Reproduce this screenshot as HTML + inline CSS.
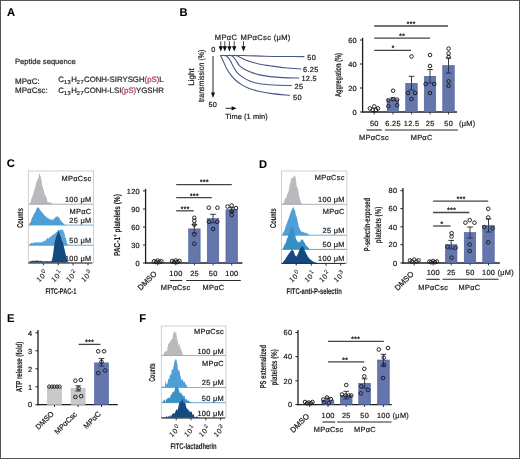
<!DOCTYPE html>
<html><head><meta charset="utf-8">
<style>
html,body{margin:0;padding:0;background:#fff;}
svg{display:block;will-change:transform;text-rendering:geometricPrecision;font-family:"Liberation Sans",sans-serif;}
.pl{font-weight:bold;font-size:11.2px;fill:#000;}
text{stroke:#222;stroke-width:0.22px;paint-order:stroke;}
.cd{stroke-width:0.1px;font-weight:bold;}
.tk{stroke-width:0.1px;}
.pl{stroke:#000;stroke-width:0.1px;}
</style></head><body>
<svg width="520" height="459" viewBox="0 0 520 459">
<rect x="0" y="0" width="520" height="459" fill="#fff"/>
<text class="pl" x="7" y="16.1">A</text>
<g fill="#2a2a2a" font-size="8" style="stroke-width:0.15px">
<text x="15" y="64.4" font-size="7.6">Peptide sequence</text>
<text x="15" y="83.6">MPαC:</text>
<text x="15" y="93.3">MPαCsc:</text>
<text x="58.3" y="82.2" font-size="7.8">C<tspan font-size="5.6" dy="1.8" letter-spacing="0.5">13</tspan><tspan dy="-1.8">H</tspan><tspan font-size="5.6" dy="1.8" letter-spacing="0.5">27</tspan><tspan dy="-1.8">CONH-SIRYSGH</tspan><tspan fill="#d03f66">(pS)</tspan>L</text>
<text x="58.3" y="93" font-size="7.8">C<tspan font-size="5.6" dy="1.8" letter-spacing="0.5">13</tspan><tspan dy="-1.8">H</tspan><tspan font-size="5.6" dy="1.8" letter-spacing="0.5">27</tspan><tspan dy="-1.8">CONH-LSI</tspan><tspan fill="#d03f66">(pS)</tspan>YGSHR</text>
</g>
<text class="pl" x="179.4" y="16.1">B</text>
<text x="214.8" y="39.8" font-size="7.6" text-anchor="start" fill="#222" letter-spacing="0.3" >MPαC</text>
<text x="240.6" y="39.8" font-size="7.6" text-anchor="start" fill="#222" letter-spacing="0.3" >MPαCsc (μM)</text>
<text x="211.3" y="52.3" font-size="7.3" text-anchor="start" fill="#222" letter-spacing="0.3" >0</text>
<text x="208.5" y="107" font-size="7.3" text-anchor="start" fill="#222" letter-spacing="0.3" >50</text>
<text x="225.3" y="119" font-size="7.4" text-anchor="start" fill="#222" letter-spacing="0.1" >Time (1 min)</text>
<text class="" transform="translate(193.8,77) rotate(-90) scale(1.0,1)" font-size="8.0" text-anchor="middle" fill="#222">Light</text>
<text class="" transform="translate(203.5,75.8) rotate(-90)" font-size="8.2" text-anchor="middle" fill="#222" textLength="52.5" lengthAdjust="spacingAndGlyphs">transmission (%)</text>
<text x="307.3" y="60" font-size="7.4" text-anchor="start" fill="#222" letter-spacing="0.3" >50</text>
<text x="303" y="72" font-size="7.4" text-anchor="start" fill="#222" letter-spacing="0.3" >6.25</text>
<text x="301.4" y="81" font-size="7.4" text-anchor="start" fill="#222" letter-spacing="0.3" >12.5</text>
<text x="294.6" y="89" font-size="7.4" text-anchor="start" fill="#222" letter-spacing="0.3" >25</text>
<text x="293" y="99.5" font-size="7.4" text-anchor="start" fill="#222" letter-spacing="0.3" >50</text>
<g stroke="#111" stroke-width="0.9" fill="#111">
<line x1="220.8" y1="41.2" x2="220.8" y2="47.5" stroke="#333"/><path d="M218.60000000000002 46.3 L223.0 46.3 L220.8 51.4 Z" stroke="none"/>
<line x1="224.8" y1="41.2" x2="224.8" y2="47.5" stroke="#333"/><path d="M222.60000000000002 46.3 L227.0 46.3 L224.8 51.4 Z" stroke="none"/>
<line x1="229.4" y1="41.2" x2="229.4" y2="47.5" stroke="#333"/><path d="M227.20000000000002 46.3 L231.6 46.3 L229.4 51.4 Z" stroke="none"/>
<line x1="234.2" y1="41.2" x2="234.2" y2="47.5" stroke="#333"/><path d="M232.0 46.3 L236.39999999999998 46.3 L234.2 51.4 Z" stroke="none"/>
<line x1="243.5" y1="41.2" x2="243.5" y2="47.5" stroke="#333"/><path d="M241.3 46.3 L245.7 46.3 L243.5 51.4 Z" stroke="none"/>
<line x1="213" y1="56" x2="213" y2="94"/><path d="M210.9 92.6 L215.1 92.6 L213 97.8 Z" stroke="none"/>
<line x1="225.5" y1="108.3" x2="233" y2="108.3"/><path d="M231.6 106.2 L231.6 110.4 L236.6 108.3 Z" stroke="none"/>
</g>
<g stroke="#4c5686" stroke-width="1.1" fill="none" stroke-linecap="round">
<path d="M220.80 55.50 C224.45 55.50 235.33 55.38 242.70 55.50 C250.07 55.62 257.95 56.03 265.00 56.20 C272.05 56.37 278.50 56.43 285.00 56.50 C291.50 56.57 300.83 56.58 304.00 56.60"/>
<path d="M234.20 55.30 C234.75 55.43 236.47 55.75 237.50 56.10 C238.53 56.45 239.08 56.75 240.40 57.40 C241.72 58.05 243.42 59.18 245.40 60.00 C247.38 60.82 249.87 61.60 252.30 62.30 C254.73 63.00 257.05 63.62 260.00 64.20 C262.95 64.78 265.83 65.20 270.00 65.80 C274.17 66.40 279.83 67.27 285.00 67.80 C290.17 68.33 298.33 68.80 301.00 69.00"/>
<path d="M229.30 55.30 C229.83 55.45 231.42 55.42 232.50 56.20 C233.58 56.98 234.68 58.47 235.80 60.00 C236.92 61.53 237.98 63.98 239.20 65.40 C240.42 66.82 241.43 67.48 243.10 68.50 C244.77 69.52 246.63 70.48 249.20 71.50 C251.77 72.52 255.03 73.75 258.50 74.60 C261.97 75.45 265.92 76.10 270.00 76.60 C274.08 77.10 278.20 77.37 283.00 77.60 C287.80 77.83 296.17 77.93 298.80 78.00"/>
<path d="M223.50 55.40 C224.05 55.55 225.72 55.53 226.80 56.30 C227.88 57.07 228.95 58.35 230.00 60.00 C231.05 61.65 231.95 64.15 233.10 66.20 C234.25 68.25 235.37 70.52 236.90 72.30 C238.43 74.08 240.25 75.48 242.30 76.90 C244.35 78.32 246.50 79.70 249.20 80.80 C251.90 81.90 254.53 82.80 258.50 83.50 C262.47 84.20 267.52 84.67 273.00 85.00 C278.48 85.33 288.33 85.42 291.40 85.50"/>
<path d="M220.60 55.60 C220.95 56.33 221.77 57.98 222.70 60.00 C223.63 62.02 224.98 65.40 226.20 67.70 C227.42 70.00 228.47 71.75 230.00 73.80 C231.53 75.85 233.48 78.20 235.40 80.00 C237.32 81.80 239.20 83.18 241.50 84.60 C243.80 86.02 246.37 87.40 249.20 88.50 C252.03 89.60 254.70 90.35 258.50 91.20 C262.30 92.05 266.87 92.90 272.00 93.60 C277.13 94.30 286.42 95.10 289.30 95.40"/>
</g>
<line x1="362.6" y1="37.8" x2="362.6" y2="112.6" stroke="#1e1e1e" stroke-width="1.3"/>
<line x1="360.0" y1="40" x2="362.6" y2="40" stroke="#222" stroke-width="1.0"/>
<text x="357.0" y="42.7" font-size="7.4" text-anchor="end" fill="#222" letter-spacing="0.3" >60</text>
<line x1="360.0" y1="64" x2="362.6" y2="64" stroke="#222" stroke-width="1.0"/>
<text x="357.0" y="66.7" font-size="7.4" text-anchor="end" fill="#222" letter-spacing="0.3" >40</text>
<line x1="360.0" y1="88" x2="362.6" y2="88" stroke="#222" stroke-width="1.0"/>
<text x="357.0" y="90.7" font-size="7.4" text-anchor="end" fill="#222" letter-spacing="0.3" >20</text>
<line x1="360.0" y1="112" x2="362.6" y2="112" stroke="#222" stroke-width="1.0"/>
<text x="357.0" y="114.7" font-size="7.4" text-anchor="end" fill="#222" letter-spacing="0.3" >0</text>
<line x1="362.0" y1="112" x2="457" y2="112" stroke="#1e1e1e" stroke-width="1.3"/>
<text class="cd" transform="translate(341.0,75) rotate(-90)" font-size="8.6" text-anchor="middle" fill="#222" textLength="44" lengthAdjust="spacingAndGlyphs">Aggregation (%)</text>
<line x1="374.2" y1="112" x2="374.2" y2="114.4" stroke="#222" stroke-width="0.9"/>
<line x1="392.9" y1="112" x2="392.9" y2="114.4" stroke="#222" stroke-width="0.9"/>
<line x1="411.5" y1="112" x2="411.5" y2="114.4" stroke="#222" stroke-width="0.9"/>
<line x1="430" y1="112" x2="430" y2="114.4" stroke="#222" stroke-width="0.9"/>
<line x1="448.5" y1="112" x2="448.5" y2="114.4" stroke="#222" stroke-width="0.9"/>
<rect x="387.15" y="99.6" width="11.5" height="12.400000000000006" fill="#6476ab" stroke="#4c5f9c" stroke-width="0.6"/>
<line x1="392.9" y1="97.8" x2="392.9" y2="99.6" stroke="#222" stroke-width="0.9"/>
<line x1="390.09999999999997" y1="97.8" x2="395.7" y2="97.8" stroke="#222" stroke-width="0.9"/>
<rect x="405.75" y="83.3" width="11.5" height="28.700000000000003" fill="#6476ab" stroke="#4c5f9c" stroke-width="0.6"/>
<line x1="411.5" y1="76.3" x2="411.5" y2="83.3" stroke="#222" stroke-width="0.9"/>
<line x1="408.7" y1="76.3" x2="414.3" y2="76.3" stroke="#222" stroke-width="0.9"/>
<line x1="411.5" y1="83.3" x2="411.5" y2="90" stroke="#1d2a55" stroke-width="0.9"/>
<line x1="408.7" y1="90" x2="414.3" y2="90" stroke="#1d2a55" stroke-width="0.9"/>
<rect x="424.25" y="76.3" width="11.5" height="35.7" fill="#6476ab" stroke="#4c5f9c" stroke-width="0.6"/>
<line x1="430" y1="69.5" x2="430" y2="76.3" stroke="#222" stroke-width="0.9"/>
<line x1="427.2" y1="69.5" x2="432.8" y2="69.5" stroke="#222" stroke-width="0.9"/>
<line x1="430" y1="76.3" x2="430" y2="83" stroke="#1d2a55" stroke-width="0.9"/>
<line x1="427.2" y1="83" x2="432.8" y2="83" stroke="#1d2a55" stroke-width="0.9"/>
<rect x="442.75" y="65.6" width="11.5" height="46.400000000000006" fill="#6476ab" stroke="#4c5f9c" stroke-width="0.6"/>
<line x1="448.5" y1="58" x2="448.5" y2="65.6" stroke="#222" stroke-width="0.9"/>
<line x1="445.7" y1="58" x2="451.3" y2="58" stroke="#222" stroke-width="0.9"/>
<line x1="448.5" y1="65.6" x2="448.5" y2="73" stroke="#1d2a55" stroke-width="0.9"/>
<line x1="445.7" y1="73" x2="451.3" y2="73" stroke="#1d2a55" stroke-width="0.9"/>
<circle cx="369.9" cy="108.4" r="1.8" fill="none" stroke="#1a1a1a" stroke-width="0.95"/>
<circle cx="374.3" cy="106.4" r="1.8" fill="none" stroke="#1a1a1a" stroke-width="0.95"/>
<circle cx="378" cy="108.4" r="1.8" fill="none" stroke="#1a1a1a" stroke-width="0.95"/>
<circle cx="372.6" cy="110" r="1.8" fill="none" stroke="#1a1a1a" stroke-width="0.95"/>
<circle cx="375.9" cy="110" r="1.8" fill="none" stroke="#1a1a1a" stroke-width="0.95"/>
<circle cx="393.1" cy="90.7" r="1.8" fill="none" stroke="#1a1a1a" stroke-width="0.95"/>
<circle cx="388.4" cy="100.3" r="1.8" fill="none" stroke="#1a1a1a" stroke-width="0.95"/>
<circle cx="393.1" cy="99.2" r="1.8" fill="none" stroke="#1a1a1a" stroke-width="0.95"/>
<circle cx="397.1" cy="99.7" r="1.8" fill="none" stroke="#1a1a1a" stroke-width="0.95"/>
<circle cx="388.4" cy="106.2" r="1.8" fill="none" stroke="#1a1a1a" stroke-width="0.95"/>
<circle cx="397.1" cy="105.2" r="1.8" fill="none" stroke="#1a1a1a" stroke-width="0.95"/>
<circle cx="411.5" cy="56.5" r="1.8" fill="none" stroke="#1a1a1a" stroke-width="0.95"/>
<circle cx="408" cy="93" r="1.8" fill="none" stroke="#1a1a1a" stroke-width="0.95"/>
<circle cx="415" cy="93" r="1.8" fill="none" stroke="#1a1a1a" stroke-width="0.95"/>
<circle cx="411.5" cy="99" r="1.8" fill="none" stroke="#1a1a1a" stroke-width="0.95"/>
<circle cx="430" cy="55" r="1.8" fill="none" stroke="#1a1a1a" stroke-width="0.95"/>
<circle cx="430" cy="66" r="1.8" fill="none" stroke="#1a1a1a" stroke-width="0.95"/>
<circle cx="425.7" cy="84" r="1.8" fill="none" stroke="#1a1a1a" stroke-width="0.95"/>
<circle cx="434.2" cy="84" r="1.8" fill="none" stroke="#1a1a1a" stroke-width="0.95"/>
<circle cx="430" cy="93" r="1.8" fill="none" stroke="#1a1a1a" stroke-width="0.95"/>
<circle cx="448.6" cy="48.6" r="1.8" fill="none" stroke="#1a1a1a" stroke-width="0.95"/>
<circle cx="448.6" cy="53.5" r="1.8" fill="none" stroke="#1a1a1a" stroke-width="0.95"/>
<circle cx="448.6" cy="57" r="1.8" fill="none" stroke="#1a1a1a" stroke-width="0.95"/>
<circle cx="448.6" cy="81.3" r="1.8" fill="none" stroke="#1a1a1a" stroke-width="0.95"/>
<circle cx="448.6" cy="85.9" r="1.8" fill="none" stroke="#1a1a1a" stroke-width="0.95"/>
<line x1="374.2" y1="26" x2="448" y2="26" stroke="#444" stroke-width="1.3"/>
<text x="411.35" y="25.8" font-size="6.4" text-anchor="middle" fill="#222" letter-spacing="0.5" font-weight="bold">***</text>
<line x1="374.2" y1="38.2" x2="430" y2="38.2" stroke="#444" stroke-width="1.3"/>
<text x="402.35" y="38.0" font-size="6.4" text-anchor="middle" fill="#222" letter-spacing="0.5" font-weight="bold">**</text>
<line x1="374.2" y1="50.3" x2="411" y2="50.3" stroke="#444" stroke-width="1.3"/>
<text x="393.25" y="50.099999999999994" font-size="6.4" text-anchor="middle" fill="#222" letter-spacing="0.5" font-weight="bold">*</text>
<text x="374.34999999999997" y="125.5" font-size="7.4" text-anchor="middle" fill="#222" letter-spacing="0.3" >50</text>
<text x="393.04999999999995" y="125.5" font-size="7.4" text-anchor="middle" fill="#222" letter-spacing="0.3" >6.25</text>
<text x="411.65" y="125.5" font-size="7.4" text-anchor="middle" fill="#222" letter-spacing="0.3" >12.5</text>
<text x="430.15" y="125.5" font-size="7.4" text-anchor="middle" fill="#222" letter-spacing="0.3" >25</text>
<text x="448.65" y="125.5" font-size="7.4" text-anchor="middle" fill="#222" letter-spacing="0.3" >50</text>
<text x="459" y="125.5" font-size="7.4" text-anchor="start" fill="#222" letter-spacing="0.3" >(μM)</text>
<line x1="366.6" y1="130" x2="381.9" y2="130" stroke="#2a2a2a" stroke-width="1.1"/>
<line x1="384.9" y1="130" x2="458" y2="130" stroke="#2a2a2a" stroke-width="1.1"/>
<text x="373.95" y="140.2" font-size="7.4" text-anchor="middle" fill="#222" letter-spacing="0.3" >MPαCsc</text>
<text x="421.65" y="140.2" font-size="7.4" text-anchor="middle" fill="#222" letter-spacing="0.3" >MPαC</text>
<text class="pl" x="6.8" y="167.3">C</text>
<path d="M29.50 204.20 L29.50 204.20 L30.40 203.06 L31.30 199.02 L32.20 196.71 L33.10 195.08 L34.00 191.21 L34.90 188.20 L35.80 184.45 L36.70 180.88 L37.60 179.82 L38.50 177.44 L39.40 172.90 L40.30 175.71 L41.20 178.35 L42.10 184.83 L43.00 187.70 L43.90 191.07 L44.80 195.21 L45.70 195.54 L46.60 197.55 L47.50 201.73 L48.40 202.78 L49.30 202.09 L50.20 202.19 L51.10 203.36 L52.00 203.84 L52.90 203.92 L53.80 204.15 L54.00 204.20 Z" fill="#b9babe" stroke="none"/>
<line x1="28.3" y1="204.2" x2="93.6" y2="204.2" stroke="#9a9a9a" stroke-width="0.8"/>
<path d="M29.00 225.10 L29.00 225.10 L29.50 223.86 L30.00 222.62 L30.50 222.56 L31.00 221.26 L31.50 218.94 L32.00 217.97 L32.50 216.95 L33.00 216.41 L33.50 214.93 L34.00 213.93 L34.50 212.97 L35.00 212.65 L35.50 211.34 L36.00 210.52 L36.50 209.12 L37.00 207.81 L37.50 207.49 L38.00 207.74 L38.50 207.50 L39.00 207.66 L39.50 208.97 L40.00 209.92 L40.50 210.16 L41.00 211.22 L41.50 211.96 L42.00 211.97 L42.50 212.93 L43.00 213.25 L43.50 214.15 L44.00 214.86 L44.50 215.13 L45.00 216.18 L45.50 216.33 L46.00 216.30 L46.50 217.20 L47.00 218.36 L47.50 217.60 L48.00 218.13 L48.50 218.47 L49.00 218.45 L49.50 218.93 L50.00 219.14 L50.50 219.96 L51.00 219.08 L51.50 219.24 L52.00 220.64 L52.50 219.44 L53.00 219.26 L53.50 219.41 L54.00 219.05 L54.50 218.62 L55.00 217.42 L55.50 217.60 L56.00 216.57 L56.50 217.19 L57.00 216.19 L57.50 216.02 L58.00 217.01 L58.50 217.41 L59.00 217.43 L59.50 218.37 L60.00 219.37 L60.50 220.42 L61.00 220.88 L61.50 220.91 L62.00 222.38 L62.50 221.90 L63.00 223.35 L63.50 223.27 L64.00 224.20 L64.50 224.48 L65.00 224.73 L65.50 224.93 L66.00 225.10 L66.00 225.10 Z" fill="#4e9fd8" stroke="none"/>
<line x1="28.3" y1="225.1" x2="93.6" y2="225.1" stroke="#4e9fd8" stroke-width="0.8"/>
<path d="M29.00 245.20 L29.00 245.20 L29.50 244.55 L30.00 243.66 L30.50 243.57 L31.00 243.09 L31.50 242.80 L32.00 243.28 L32.50 243.34 L33.00 242.21 L33.50 242.97 L34.00 242.99 L34.50 241.92 L35.00 242.63 L35.50 242.10 L36.00 242.58 L36.50 242.33 L37.00 243.01 L37.50 242.30 L38.00 241.94 L38.50 242.42 L39.00 242.08 L39.50 242.16 L40.00 243.05 L40.50 241.88 L41.00 242.01 L41.50 242.36 L42.00 242.67 L42.50 241.22 L43.00 241.72 L43.50 241.21 L44.00 240.83 L44.50 240.98 L45.00 240.53 L45.50 240.77 L46.00 239.52 L46.50 239.49 L47.00 238.10 L47.50 237.93 L48.00 238.91 L48.50 238.58 L49.00 238.19 L49.50 236.72 L50.00 237.30 L50.50 236.54 L51.00 236.60 L51.50 235.80 L52.00 235.54 L52.50 235.13 L53.00 234.56 L53.50 234.44 L54.00 233.80 L54.50 234.03 L55.00 233.51 L55.50 233.00 L56.00 232.16 L56.50 232.05 L57.00 232.24 L57.50 230.75 L58.00 230.21 L58.50 229.93 L59.00 230.09 L59.50 229.72 L60.00 230.40 L60.50 229.27 L61.00 229.55 L61.50 229.88 L62.00 230.10 L62.50 229.41 L63.00 229.77 L63.50 231.78 L64.00 231.22 L64.50 233.72 L65.00 236.01 L65.50 237.65 L66.00 238.77 L66.50 240.39 L67.00 243.36 L67.50 244.21 L68.00 244.73 L68.50 244.85 L69.00 245.20 L69.00 245.20 Z" fill="#5aa5da" stroke="none"/>
<line x1="28.3" y1="245.2" x2="93.6" y2="245.2" stroke="#3f95c9" stroke-width="0.8"/>
<text x="91.5" y="260.8" font-size="7.4" text-anchor="end" fill="#222" letter-spacing="0.3" >100 μM</text>
<path d="M28.50 262.80 L28.50 262.80 L29.00 262.12 L29.50 261.50 L30.00 261.28 L30.50 261.35 L31.00 261.33 L31.50 261.07 L32.00 260.68 L32.50 260.68 L33.00 260.62 L33.50 260.94 L34.00 260.67 L34.50 260.81 L35.00 260.84 L35.50 260.85 L36.00 260.72 L36.50 260.24 L37.00 260.39 L37.50 260.47 L38.00 260.54 L38.50 261.02 L39.00 261.00 L39.50 260.86 L40.00 260.86 L40.50 260.82 L41.00 260.84 L41.50 261.33 L42.00 261.06 L42.50 261.06 L43.00 261.18 L43.50 261.38 L44.00 261.25 L44.50 261.48 L45.00 261.08 L45.50 261.12 L46.00 261.28 L46.50 261.40 L47.00 261.10 L47.50 261.26 L48.00 261.11 L48.50 261.13 L49.00 261.30 L49.50 261.34 L50.00 261.25 L50.50 261.21 L51.00 261.24 L51.50 261.03 L52.00 259.90 L52.50 257.51 L53.00 254.38 L53.50 250.67 L54.00 247.11 L54.50 242.95 L55.00 240.88 L55.50 239.33 L56.00 236.99 L56.50 236.10 L57.00 234.58 L57.50 233.48 L58.00 231.74 L58.50 230.79 L59.00 231.73 L59.50 232.95 L60.00 234.98 L60.50 236.11 L61.00 237.14 L61.50 239.31 L62.00 240.72 L62.50 241.92 L63.00 243.03 L63.50 245.02 L64.00 247.23 L64.50 248.97 L65.00 251.39 L65.50 253.37 L66.00 256.06 L66.50 257.44 L67.00 259.28 L67.50 261.18 L68.00 261.79 L68.50 262.26 L69.00 262.80 L69.00 262.80 Z" fill="#154a80" stroke="none"/>
<rect x="28.3" y="171" width="65.3" height="92" fill="none" stroke="#c4c4c4" stroke-width="0.8"/>
<line x1="28.3" y1="263" x2="92.3" y2="263" stroke="#222" stroke-width="1.0"/>
<line x1="43.4" y1="263" x2="43.4" y2="265.3" stroke="#222" stroke-width="0.9"/>
<text class="tk" transform="translate(48.3,273.4) rotate(-45)" font-size="7.2" text-anchor="end" fill="#262626" letter-spacing="0.4">10<tspan font-size="5.8" dy="-3" dx="0.3">0</tspan></text>
<line x1="58.2" y1="263" x2="58.2" y2="265.3" stroke="#222" stroke-width="0.9"/>
<text class="tk" transform="translate(63.1,273.4) rotate(-45)" font-size="7.2" text-anchor="end" fill="#262626" letter-spacing="0.4">10<tspan font-size="5.8" dy="-3" dx="0.3">1</tspan></text>
<line x1="73" y1="263" x2="73" y2="265.3" stroke="#222" stroke-width="0.9"/>
<text class="tk" transform="translate(77.9,273.4) rotate(-45)" font-size="7.2" text-anchor="end" fill="#262626" letter-spacing="0.4">10<tspan font-size="5.8" dy="-3" dx="0.3">2</tspan></text>
<line x1="88" y1="263" x2="88" y2="265.3" stroke="#222" stroke-width="0.9"/>
<text class="tk" transform="translate(92.9,273.4) rotate(-45)" font-size="7.2" text-anchor="end" fill="#262626" letter-spacing="0.4">10<tspan font-size="5.8" dy="-3" dx="0.3">3</tspan></text>
<text x="91.5" y="180.8" font-size="7.4" text-anchor="end" fill="#222" letter-spacing="0.3" >MPαCsc</text>
<text x="91.5" y="202.2" font-size="7.4" text-anchor="end" fill="#222" letter-spacing="0.3" >100 μM</text>
<text x="91.5" y="214.3" font-size="7.4" text-anchor="end" fill="#222" letter-spacing="0.3" >MPαC</text>
<text x="91.5" y="223.3" font-size="7.4" text-anchor="end" fill="#222" letter-spacing="0.3" >25 μM</text>
<text x="91.5" y="242.5" font-size="7.4" text-anchor="end" fill="#222" letter-spacing="0.3" >50 μM</text>
<text class="cd" transform="translate(23.2,218) rotate(-90)" font-size="8.6" text-anchor="middle" fill="#222" textLength="19.6" lengthAdjust="spacingAndGlyphs">Counts</text>
<text class="cd" x="60.9" y="293.5" font-size="8.4" text-anchor="middle" fill="#222" textLength="31" lengthAdjust="spacingAndGlyphs">FITC-PAC-1</text>
<line x1="145.6" y1="188.9" x2="145.6" y2="263.6" stroke="#1e1e1e" stroke-width="1.3"/>
<line x1="143.0" y1="190.9" x2="145.6" y2="190.9" stroke="#222" stroke-width="1.0"/>
<text x="140.0" y="193.6" font-size="7.4" text-anchor="end" fill="#222" letter-spacing="0.3" >120</text>
<line x1="143.0" y1="209" x2="145.6" y2="209" stroke="#222" stroke-width="1.0"/>
<text x="140.0" y="211.7" font-size="7.4" text-anchor="end" fill="#222" letter-spacing="0.3" >90</text>
<line x1="143.0" y1="227" x2="145.6" y2="227" stroke="#222" stroke-width="1.0"/>
<text x="140.0" y="229.7" font-size="7.4" text-anchor="end" fill="#222" letter-spacing="0.3" >60</text>
<line x1="143.0" y1="245" x2="145.6" y2="245" stroke="#222" stroke-width="1.0"/>
<text x="140.0" y="247.7" font-size="7.4" text-anchor="end" fill="#222" letter-spacing="0.3" >30</text>
<line x1="143.0" y1="263" x2="145.6" y2="263" stroke="#222" stroke-width="1.0"/>
<text x="140.0" y="265.7" font-size="7.4" text-anchor="end" fill="#222" letter-spacing="0.3" >0</text>
<line x1="145.0" y1="263" x2="242.4" y2="263" stroke="#1e1e1e" stroke-width="1.3"/>
<line x1="157.7" y1="263" x2="157.7" y2="265.4" stroke="#222" stroke-width="0.9"/>
<line x1="175.8" y1="263" x2="175.8" y2="265.4" stroke="#222" stroke-width="0.9"/>
<line x1="194.4" y1="263" x2="194.4" y2="265.4" stroke="#222" stroke-width="0.9"/>
<line x1="213" y1="263" x2="213" y2="265.4" stroke="#222" stroke-width="0.9"/>
<line x1="231.7" y1="263" x2="231.7" y2="265.4" stroke="#222" stroke-width="0.9"/>
<rect x="188.65" y="228.9" width="11.5" height="34.099999999999994" fill="#6476ab" stroke="#4c5f9c" stroke-width="0.6"/>
<line x1="194.4" y1="224.6" x2="194.4" y2="228.9" stroke="#222" stroke-width="0.9"/>
<line x1="191.6" y1="224.6" x2="197.20000000000002" y2="224.6" stroke="#222" stroke-width="0.9"/>
<line x1="194.4" y1="228.9" x2="194.4" y2="233" stroke="#1d2a55" stroke-width="0.9"/>
<line x1="191.6" y1="233" x2="197.20000000000002" y2="233" stroke="#1d2a55" stroke-width="0.9"/>
<rect x="207.25" y="218.5" width="11.5" height="44.5" fill="#6476ab" stroke="#4c5f9c" stroke-width="0.6"/>
<line x1="213" y1="214.3" x2="213" y2="218.5" stroke="#222" stroke-width="0.9"/>
<line x1="210.2" y1="214.3" x2="215.8" y2="214.3" stroke="#222" stroke-width="0.9"/>
<line x1="213" y1="218.5" x2="213" y2="222.7" stroke="#1d2a55" stroke-width="0.9"/>
<line x1="210.2" y1="222.7" x2="215.8" y2="222.7" stroke="#1d2a55" stroke-width="0.9"/>
<rect x="225.95" y="209.7" width="11.5" height="53.30000000000001" fill="#6476ab" stroke="#4c5f9c" stroke-width="0.6"/>
<line x1="231.7" y1="207.7" x2="231.7" y2="209.7" stroke="#222" stroke-width="0.9"/>
<line x1="228.89999999999998" y1="207.7" x2="234.5" y2="207.7" stroke="#222" stroke-width="0.9"/>
<line x1="231.7" y1="209.7" x2="231.7" y2="212" stroke="#1d2a55" stroke-width="0.9"/>
<line x1="228.89999999999998" y1="212" x2="234.5" y2="212" stroke="#1d2a55" stroke-width="0.9"/>
<circle cx="154" cy="261.3" r="1.8" fill="none" stroke="#1a1a1a" stroke-width="0.95"/>
<circle cx="157.7" cy="260.5" r="1.8" fill="none" stroke="#1a1a1a" stroke-width="0.95"/>
<circle cx="161.3" cy="261.3" r="1.8" fill="none" stroke="#1a1a1a" stroke-width="0.95"/>
<circle cx="156" cy="262" r="1.8" fill="none" stroke="#1a1a1a" stroke-width="0.95"/>
<circle cx="159.5" cy="262" r="1.8" fill="none" stroke="#1a1a1a" stroke-width="0.95"/>
<circle cx="172" cy="261" r="1.8" fill="none" stroke="#1a1a1a" stroke-width="0.95"/>
<circle cx="175.8" cy="260.5" r="1.8" fill="none" stroke="#1a1a1a" stroke-width="0.95"/>
<circle cx="179.5" cy="261" r="1.8" fill="none" stroke="#1a1a1a" stroke-width="0.95"/>
<circle cx="174" cy="262" r="1.8" fill="none" stroke="#1a1a1a" stroke-width="0.95"/>
<circle cx="177.5" cy="262" r="1.8" fill="none" stroke="#1a1a1a" stroke-width="0.95"/>
<circle cx="194.3" cy="217.8" r="1.8" fill="none" stroke="#1a1a1a" stroke-width="0.95"/>
<circle cx="194.3" cy="220.8" r="1.8" fill="none" stroke="#1a1a1a" stroke-width="0.95"/>
<circle cx="194.3" cy="224.7" r="1.8" fill="none" stroke="#1a1a1a" stroke-width="0.95"/>
<circle cx="194.3" cy="234.5" r="1.8" fill="none" stroke="#1a1a1a" stroke-width="0.95"/>
<circle cx="194.3" cy="243.7" r="1.8" fill="none" stroke="#1a1a1a" stroke-width="0.95"/>
<circle cx="208.8" cy="207.7" r="1.8" fill="none" stroke="#1a1a1a" stroke-width="0.95"/>
<circle cx="217.4" cy="207.7" r="1.8" fill="none" stroke="#1a1a1a" stroke-width="0.95"/>
<circle cx="209" cy="221.8" r="1.8" fill="none" stroke="#1a1a1a" stroke-width="0.95"/>
<circle cx="217.3" cy="221.8" r="1.8" fill="none" stroke="#1a1a1a" stroke-width="0.95"/>
<circle cx="213.2" cy="229" r="1.8" fill="none" stroke="#1a1a1a" stroke-width="0.95"/>
<circle cx="227.5" cy="206.5" r="1.8" fill="none" stroke="#1a1a1a" stroke-width="0.95"/>
<circle cx="231.7" cy="205.5" r="1.8" fill="none" stroke="#1a1a1a" stroke-width="0.95"/>
<circle cx="236" cy="208" r="1.8" fill="none" stroke="#1a1a1a" stroke-width="0.95"/>
<circle cx="231.7" cy="211" r="1.8" fill="none" stroke="#1a1a1a" stroke-width="0.95"/>
<circle cx="231.7" cy="215" r="1.8" fill="none" stroke="#1a1a1a" stroke-width="0.95"/>
<line x1="176.2" y1="184.6" x2="231.8" y2="184.6" stroke="#444" stroke-width="1.3"/>
<text x="204.45" y="184.4" font-size="6.4" text-anchor="middle" fill="#222" letter-spacing="0.5" font-weight="bold">***</text>
<line x1="176.2" y1="197.7" x2="211.8" y2="197.7" stroke="#444" stroke-width="1.3"/>
<text x="194.55" y="197.5" font-size="6.4" text-anchor="middle" fill="#222" letter-spacing="0.5" font-weight="bold">***</text>
<line x1="176.2" y1="210.8" x2="193.8" y2="210.8" stroke="#444" stroke-width="1.3"/>
<text x="185.25" y="210.60000000000002" font-size="6.4" text-anchor="middle" fill="#222" letter-spacing="0.5" font-weight="bold">***</text>
<text x="157.7" y="0" font-size="7" text-anchor="start" fill="#222" letter-spacing="0.3" ></text>
<text transform="translate(157.3,274.2) rotate(-45)" font-size="7.8" text-anchor="end" fill="#222">DMSO</text>
<text x="175.95000000000002" y="275.8" font-size="7.4" text-anchor="middle" fill="#222" letter-spacing="0.3" >100</text>
<text x="194.55" y="275.8" font-size="7.4" text-anchor="middle" fill="#222" letter-spacing="0.3" >25</text>
<text x="213.15" y="275.8" font-size="7.4" text-anchor="middle" fill="#222" letter-spacing="0.3" >50</text>
<text x="231.85" y="275.8" font-size="7.4" text-anchor="middle" fill="#222" letter-spacing="0.3" >100</text>
<line x1="170" y1="280.5" x2="182.3" y2="280.5" stroke="#2a2a2a" stroke-width="1.1"/>
<line x1="186.2" y1="280.5" x2="240.8" y2="280.5" stroke="#2a2a2a" stroke-width="1.1"/>
<text x="175.65" y="290.2" font-size="7.4" text-anchor="middle" fill="#222" letter-spacing="0.3" >MPαCsc</text>
<text x="213.45000000000002" y="290.2" font-size="7.4" text-anchor="middle" fill="#222" letter-spacing="0.3" >MPαC</text>
<text class="cd" transform="translate(119.8,225.1) rotate(-90)" font-size="8.6" text-anchor="middle" fill="#222" textLength="61.8" lengthAdjust="spacingAndGlyphs">PAC-1<tspan font-size="5.8" dy="-2.7">+</tspan><tspan dy="2.7"> platelets (%)</tspan></text>
<text class="pl" x="259" y="167.6">D</text>
<path d="M282.40 204.30 L282.40 204.30 L283.30 203.26 L284.20 201.66 L285.10 197.98 L286.00 198.47 L286.90 195.56 L287.80 192.46 L288.70 191.08 L289.60 185.84 L290.50 181.90 L291.40 177.94 L292.30 178.39 L293.20 176.64 L294.10 176.55 L295.00 174.92 L295.90 179.47 L296.80 187.52 L297.70 187.62 L298.60 192.38 L299.50 197.53 L300.40 200.58 L301.30 203.78 L302.20 204.20 L303.00 204.30 Z" fill="#b9babe" stroke="none"/>
<line x1="281.5" y1="204.3" x2="346.9" y2="204.3" stroke="#9a9a9a" stroke-width="0.8"/>
<path d="M282.00 235.20 L282.00 235.20 L282.50 234.21 L283.00 233.03 L283.50 231.68 L284.00 231.27 L284.50 230.23 L285.00 228.40 L285.50 227.31 L286.00 225.20 L286.50 224.15 L287.00 223.04 L287.50 221.61 L288.00 219.94 L288.50 219.27 L289.00 217.30 L289.50 216.24 L290.00 213.55 L290.50 213.41 L291.00 210.69 L291.50 210.88 L292.00 208.90 L292.50 208.46 L293.00 207.80 L293.50 206.55 L294.00 208.92 L294.50 209.90 L295.00 210.54 L295.50 213.19 L296.00 215.85 L296.50 216.19 L297.00 218.01 L297.50 221.11 L298.00 222.71 L298.50 225.48 L299.00 227.50 L299.50 228.01 L300.00 229.74 L300.50 229.89 L301.00 231.42 L301.50 231.73 L302.00 231.19 L302.50 232.03 L303.00 232.16 L303.50 232.05 L304.00 232.40 L304.50 232.70 L305.00 233.33 L305.50 232.64 L306.00 232.62 L306.50 232.88 L307.00 233.42 L307.50 233.89 L308.00 234.09 L308.50 234.21 L309.00 234.54 L309.50 234.96 L310.00 235.20 L310.00 235.20 Z" fill="#4e9fd8" stroke="none"/>
<line x1="281.5" y1="235.2" x2="346.9" y2="235.2" stroke="#4e9fd8" stroke-width="0.8"/>
<path d="M282.50 249.40 L282.50 249.40 L283.00 248.53 L283.50 247.20 L284.00 246.11 L284.50 244.59 L285.00 244.40 L285.50 243.08 L286.00 241.96 L286.50 240.59 L287.00 238.53 L287.50 238.24 L288.00 236.35 L288.50 235.36 L289.00 233.73 L289.50 232.01 L290.00 229.86 L290.50 229.18 L291.00 229.08 L291.50 227.61 L292.00 226.77 L292.50 226.67 L293.00 227.84 L293.50 228.91 L294.00 230.88 L294.50 233.01 L295.00 234.68 L295.50 236.60 L296.00 239.12 L296.50 239.84 L297.00 240.97 L297.50 241.10 L298.00 241.96 L298.50 242.54 L299.00 242.30 L299.50 241.86 L300.00 241.70 L300.50 241.59 L301.00 240.04 L301.50 239.65 L302.00 238.92 L302.50 239.79 L303.00 240.41 L303.50 240.50 L304.00 242.32 L304.50 242.28 L305.00 243.49 L305.50 244.67 L306.00 245.38 L306.50 245.61 L307.00 246.79 L307.50 246.95 L308.00 247.29 L308.50 247.98 L309.00 248.60 L309.50 248.90 L310.00 249.40 L310.00 249.40 Z" fill="#3590c4" stroke="none"/>
<line x1="281.5" y1="249.4" x2="346.9" y2="249.4" stroke="#3590c4" stroke-width="0.8"/>
<text x="344.7" y="260.6" font-size="7.4" text-anchor="end" fill="#222" letter-spacing="0.3" >100 μM</text>
<path d="M282.50 263.00 L282.50 263.00 L283.00 262.40 L283.50 261.59 L284.00 260.92 L284.50 259.93 L285.00 259.68 L285.50 258.95 L286.00 257.81 L286.50 257.12 L287.00 256.66 L287.50 255.60 L288.00 255.08 L288.50 254.03 L289.00 253.81 L289.50 252.97 L290.00 251.68 L290.50 251.51 L291.00 250.99 L291.50 249.96 L292.00 249.49 L292.50 250.35 L293.00 250.49 L293.50 250.87 L294.00 252.60 L294.50 253.55 L295.00 255.30 L295.50 255.67 L296.00 256.41 L296.50 256.40 L297.00 255.20 L297.50 255.08 L298.00 253.27 L298.50 252.38 L299.00 250.91 L299.50 249.70 L300.00 248.85 L300.50 248.31 L301.00 247.26 L301.50 246.56 L302.00 246.26 L302.50 246.82 L303.00 246.70 L303.50 247.49 L304.00 248.91 L304.50 249.87 L305.00 251.23 L305.50 251.76 L306.00 253.00 L306.50 254.32 L307.00 254.75 L307.50 256.08 L308.00 256.68 L308.50 257.63 L309.00 257.81 L309.50 258.81 L310.00 258.98 L310.50 259.83 L311.00 260.02 L311.50 260.25 L312.00 260.73 L312.50 261.15 L313.00 261.51 L313.50 261.72 L314.00 261.87 L314.50 262.20 L315.00 262.30 L315.50 262.51 L316.00 262.62 L316.50 262.82 L317.00 263.00 L317.00 263.00 Z" fill="#154a80" stroke="none"/>
<rect x="281.5" y="171" width="65.39999999999998" height="92.39999999999998" fill="none" stroke="#c4c4c4" stroke-width="0.8"/>
<line x1="281.5" y1="263.4" x2="345.5" y2="263.4" stroke="#222" stroke-width="1.0"/>
<line x1="296.2" y1="263.4" x2="296.2" y2="265.7" stroke="#222" stroke-width="0.9"/>
<text class="tk" transform="translate(301.09999999999997,273.79999999999995) rotate(-45)" font-size="7.2" text-anchor="end" fill="#262626" letter-spacing="0.4">10<tspan font-size="5.8" dy="-3" dx="0.3">0</tspan></text>
<line x1="311.3" y1="263.4" x2="311.3" y2="265.7" stroke="#222" stroke-width="0.9"/>
<text class="tk" transform="translate(316.2,273.79999999999995) rotate(-45)" font-size="7.2" text-anchor="end" fill="#262626" letter-spacing="0.4">10<tspan font-size="5.8" dy="-3" dx="0.3">1</tspan></text>
<line x1="326" y1="263.4" x2="326" y2="265.7" stroke="#222" stroke-width="0.9"/>
<text class="tk" transform="translate(330.9,273.79999999999995) rotate(-45)" font-size="7.2" text-anchor="end" fill="#262626" letter-spacing="0.4">10<tspan font-size="5.8" dy="-3" dx="0.3">2</tspan></text>
<line x1="340.7" y1="263.4" x2="340.7" y2="265.7" stroke="#222" stroke-width="0.9"/>
<text class="tk" transform="translate(345.59999999999997,273.79999999999995) rotate(-45)" font-size="7.2" text-anchor="end" fill="#262626" letter-spacing="0.4">10<tspan font-size="5.8" dy="-3" dx="0.3">3</tspan></text>
<text x="344.7" y="180.4" font-size="7.4" text-anchor="end" fill="#222" letter-spacing="0.3" >MPαCsc</text>
<text x="344.7" y="202" font-size="7.4" text-anchor="end" fill="#222" letter-spacing="0.3" >100 μM</text>
<text x="344.7" y="214" font-size="7.4" text-anchor="end" fill="#222" letter-spacing="0.3" >MPαC</text>
<text x="344.7" y="232.8" font-size="7.4" text-anchor="end" fill="#222" letter-spacing="0.3" >25 μM</text>
<text x="344.7" y="246.6" font-size="7.4" text-anchor="end" fill="#222" letter-spacing="0.3" >50 μM</text>
<text class="cd" transform="translate(276.1,218.1) rotate(-90)" font-size="8.6" text-anchor="middle" fill="#222" textLength="19.6" lengthAdjust="spacingAndGlyphs">Counts</text>
<text class="cd" x="314.2" y="293.6" font-size="8.4" text-anchor="middle" fill="#222" textLength="55.2" lengthAdjust="spacingAndGlyphs">FITC-anti-P-selectin</text>
<line x1="403" y1="188" x2="403" y2="263.6" stroke="#1e1e1e" stroke-width="1.3"/>
<line x1="400.4" y1="190.7" x2="403" y2="190.7" stroke="#222" stroke-width="1.0"/>
<text x="397.4" y="193.39999999999998" font-size="7.4" text-anchor="end" fill="#222" letter-spacing="0.3" >80</text>
<line x1="400.4" y1="208.6" x2="403" y2="208.6" stroke="#222" stroke-width="1.0"/>
<text x="397.4" y="211.29999999999998" font-size="7.4" text-anchor="end" fill="#222" letter-spacing="0.3" >60</text>
<line x1="400.4" y1="226.8" x2="403" y2="226.8" stroke="#222" stroke-width="1.0"/>
<text x="397.4" y="229.5" font-size="7.4" text-anchor="end" fill="#222" letter-spacing="0.3" >40</text>
<line x1="400.4" y1="244.7" x2="403" y2="244.7" stroke="#222" stroke-width="1.0"/>
<text x="397.4" y="247.39999999999998" font-size="7.4" text-anchor="end" fill="#222" letter-spacing="0.3" >20</text>
<line x1="400.4" y1="263" x2="403" y2="263" stroke="#222" stroke-width="1.0"/>
<text x="397.4" y="265.7" font-size="7.4" text-anchor="end" fill="#222" letter-spacing="0.3" >0</text>
<line x1="402.4" y1="263" x2="499.8" y2="263" stroke="#1e1e1e" stroke-width="1.3"/>
<line x1="414.2" y1="263" x2="414.2" y2="265.4" stroke="#222" stroke-width="0.9"/>
<line x1="433.1" y1="263" x2="433.1" y2="265.4" stroke="#222" stroke-width="0.9"/>
<line x1="451.2" y1="263" x2="451.2" y2="265.4" stroke="#222" stroke-width="0.9"/>
<line x1="470" y1="263" x2="470" y2="265.4" stroke="#222" stroke-width="0.9"/>
<line x1="488.5" y1="263" x2="488.5" y2="265.4" stroke="#222" stroke-width="0.9"/>
<rect x="445.45" y="244.7" width="11.5" height="18.30000000000001" fill="#6476ab" stroke="#4c5f9c" stroke-width="0.6"/>
<line x1="451.2" y1="240.4" x2="451.2" y2="244.7" stroke="#222" stroke-width="0.9"/>
<line x1="448.4" y1="240.4" x2="454.0" y2="240.4" stroke="#222" stroke-width="0.9"/>
<line x1="451.2" y1="244.7" x2="451.2" y2="249" stroke="#1d2a55" stroke-width="0.9"/>
<line x1="448.4" y1="249" x2="454.0" y2="249" stroke="#1d2a55" stroke-width="0.9"/>
<rect x="464.25" y="232.5" width="11.5" height="30.5" fill="#6476ab" stroke="#4c5f9c" stroke-width="0.6"/>
<line x1="470" y1="227" x2="470" y2="232.5" stroke="#222" stroke-width="0.9"/>
<line x1="467.2" y1="227" x2="472.8" y2="227" stroke="#222" stroke-width="0.9"/>
<line x1="470" y1="232.5" x2="470" y2="238" stroke="#1d2a55" stroke-width="0.9"/>
<line x1="467.2" y1="238" x2="472.8" y2="238" stroke="#1d2a55" stroke-width="0.9"/>
<rect x="482.75" y="225.6" width="11.5" height="37.400000000000006" fill="#6476ab" stroke="#4c5f9c" stroke-width="0.6"/>
<line x1="488.5" y1="219" x2="488.5" y2="225.6" stroke="#222" stroke-width="0.9"/>
<line x1="485.7" y1="219" x2="491.3" y2="219" stroke="#222" stroke-width="0.9"/>
<line x1="488.5" y1="225.6" x2="488.5" y2="232" stroke="#1d2a55" stroke-width="0.9"/>
<line x1="485.7" y1="232" x2="491.3" y2="232" stroke="#1d2a55" stroke-width="0.9"/>
<circle cx="410" cy="260.4" r="1.8" fill="none" stroke="#1a1a1a" stroke-width="0.95"/>
<circle cx="414.2" cy="259.6" r="1.8" fill="none" stroke="#1a1a1a" stroke-width="0.95"/>
<circle cx="418.5" cy="260.4" r="1.8" fill="none" stroke="#1a1a1a" stroke-width="0.95"/>
<circle cx="412" cy="261.5" r="1.8" fill="none" stroke="#1a1a1a" stroke-width="0.95"/>
<circle cx="416.5" cy="261.5" r="1.8" fill="none" stroke="#1a1a1a" stroke-width="0.95"/>
<circle cx="429.5" cy="261.5" r="1.8" fill="none" stroke="#1a1a1a" stroke-width="0.95"/>
<circle cx="433.1" cy="261" r="1.8" fill="none" stroke="#1a1a1a" stroke-width="0.95"/>
<circle cx="436.8" cy="261.5" r="1.8" fill="none" stroke="#1a1a1a" stroke-width="0.95"/>
<circle cx="431" cy="262.2" r="1.8" fill="none" stroke="#1a1a1a" stroke-width="0.95"/>
<circle cx="435" cy="262.2" r="1.8" fill="none" stroke="#1a1a1a" stroke-width="0.95"/>
<circle cx="451.6" cy="233.2" r="1.8" fill="none" stroke="#1a1a1a" stroke-width="0.95"/>
<circle cx="451.6" cy="236.4" r="1.8" fill="none" stroke="#1a1a1a" stroke-width="0.95"/>
<circle cx="447.5" cy="246.7" r="1.8" fill="none" stroke="#1a1a1a" stroke-width="0.95"/>
<circle cx="455.6" cy="247.8" r="1.8" fill="none" stroke="#1a1a1a" stroke-width="0.95"/>
<circle cx="451.6" cy="257.6" r="1.8" fill="none" stroke="#1a1a1a" stroke-width="0.95"/>
<circle cx="465.4" cy="222.7" r="1.8" fill="none" stroke="#1a1a1a" stroke-width="0.95"/>
<circle cx="469.7" cy="220.1" r="1.8" fill="none" stroke="#1a1a1a" stroke-width="0.95"/>
<circle cx="474.5" cy="222.7" r="1.8" fill="none" stroke="#1a1a1a" stroke-width="0.95"/>
<circle cx="469.7" cy="244.5" r="1.8" fill="none" stroke="#1a1a1a" stroke-width="0.95"/>
<circle cx="469.7" cy="251" r="1.8" fill="none" stroke="#1a1a1a" stroke-width="0.95"/>
<circle cx="488.2" cy="208.8" r="1.8" fill="none" stroke="#1a1a1a" stroke-width="0.95"/>
<circle cx="488.2" cy="217.5" r="1.8" fill="none" stroke="#1a1a1a" stroke-width="0.95"/>
<circle cx="484.3" cy="227.1" r="1.8" fill="none" stroke="#1a1a1a" stroke-width="0.95"/>
<circle cx="492.6" cy="228.4" r="1.8" fill="none" stroke="#1a1a1a" stroke-width="0.95"/>
<circle cx="488.2" cy="242.3" r="1.8" fill="none" stroke="#1a1a1a" stroke-width="0.95"/>
<line x1="433.1" y1="201.2" x2="488.2" y2="201.2" stroke="#444" stroke-width="1.3"/>
<text x="461.25" y="201.0" font-size="6.4" text-anchor="middle" fill="#222" letter-spacing="0.5" font-weight="bold">***</text>
<line x1="433.1" y1="212.5" x2="469.3" y2="212.5" stroke="#444" stroke-width="1.3"/>
<text x="451.85" y="212.3" font-size="6.4" text-anchor="middle" fill="#222" letter-spacing="0.5" font-weight="bold">***</text>
<line x1="433.1" y1="226" x2="450.5" y2="226" stroke="#444" stroke-width="1.3"/>
<text x="442.05" y="225.8" font-size="6.4" text-anchor="middle" fill="#222" letter-spacing="0.5" font-weight="bold">*</text>
<text transform="translate(414.2,274.4) rotate(-45)" font-size="7.8" text-anchor="end" fill="#222">DMSO</text>
<text x="433.25" y="274.8" font-size="7.4" text-anchor="middle" fill="#222" letter-spacing="0.3" >100</text>
<text x="451.34999999999997" y="274.8" font-size="7.4" text-anchor="middle" fill="#222" letter-spacing="0.3" >25</text>
<text x="470.15" y="274.8" font-size="7.4" text-anchor="middle" fill="#222" letter-spacing="0.3" >50</text>
<text x="488.65" y="274.8" font-size="7.4" text-anchor="middle" fill="#222" letter-spacing="0.3" >100</text>
<text x="497.5" y="274.8" font-size="7.4" text-anchor="start" fill="#222" letter-spacing="0.3" >(μM)</text>
<line x1="426.3" y1="279.3" x2="439.8" y2="279.3" stroke="#2a2a2a" stroke-width="1.1"/>
<line x1="442.5" y1="279.3" x2="498.5" y2="279.3" stroke="#2a2a2a" stroke-width="1.1"/>
<text x="433.25" y="290.4" font-size="7.4" text-anchor="middle" fill="#222" letter-spacing="0.3" >MPαCsc</text>
<text x="469.54999999999995" y="290.4" font-size="7.4" text-anchor="middle" fill="#222" letter-spacing="0.3" >MPαC</text>
<text class="cd" transform="translate(369.6,224.6) rotate(-90)" font-size="8.6" text-anchor="middle" fill="#222" textLength="53.1" lengthAdjust="spacingAndGlyphs">P-selectin-exposed</text>
<text class="cd" transform="translate(381.0,225) rotate(-90)" font-size="8.6" text-anchor="middle" fill="#222" textLength="36.4" lengthAdjust="spacingAndGlyphs">platelets (%)</text>
<text class="pl" x="7" y="321.5">E</text>
<line x1="38.0" y1="330" x2="38.0" y2="405.3" stroke="#1e1e1e" stroke-width="1.3"/>
<line x1="35.4" y1="332.8" x2="38.0" y2="332.8" stroke="#222" stroke-width="1.0"/>
<text x="32.4" y="335.5" font-size="7.4" text-anchor="end" fill="#222" letter-spacing="0.3" >4</text>
<line x1="35.4" y1="350.8" x2="38.0" y2="350.8" stroke="#222" stroke-width="1.0"/>
<text x="32.4" y="353.5" font-size="7.4" text-anchor="end" fill="#222" letter-spacing="0.3" >3</text>
<line x1="35.4" y1="368.8" x2="38.0" y2="368.8" stroke="#222" stroke-width="1.0"/>
<text x="32.4" y="371.5" font-size="7.4" text-anchor="end" fill="#222" letter-spacing="0.3" >2</text>
<line x1="35.4" y1="386.8" x2="38.0" y2="386.8" stroke="#222" stroke-width="1.0"/>
<text x="32.4" y="389.5" font-size="7.4" text-anchor="end" fill="#222" letter-spacing="0.3" >1</text>
<line x1="35.4" y1="404.7" x2="38.0" y2="404.7" stroke="#222" stroke-width="1.0"/>
<text x="32.4" y="407.4" font-size="7.4" text-anchor="end" fill="#222" letter-spacing="0.3" >0</text>
<line x1="37.4" y1="404.7" x2="117.8" y2="404.7" stroke="#1e1e1e" stroke-width="1.3"/>
<line x1="54.5" y1="404.7" x2="54.5" y2="407.09999999999997" stroke="#222" stroke-width="0.9"/>
<line x1="78.1" y1="404.7" x2="78.1" y2="407.09999999999997" stroke="#222" stroke-width="0.9"/>
<line x1="101.5" y1="404.7" x2="101.5" y2="407.09999999999997" stroke="#222" stroke-width="0.9"/>
<rect x="47.5" y="386.6" width="14" height="18.099999999999966" fill="#c9c9c9" stroke="#b9b9b9" stroke-width="0.6"/>
<rect x="71.1" y="388.4" width="14" height="16.30000000000001" fill="#c9c9c9" stroke="#b9b9b9" stroke-width="0.6"/>
<line x1="78.1" y1="385.8" x2="78.1" y2="388.4" stroke="#222" stroke-width="0.9"/>
<line x1="75.3" y1="385.8" x2="80.89999999999999" y2="385.8" stroke="#222" stroke-width="0.9"/>
<line x1="78.1" y1="388.4" x2="78.1" y2="391" stroke="#1d2a55" stroke-width="0.9"/>
<line x1="75.3" y1="391" x2="80.89999999999999" y2="391" stroke="#1d2a55" stroke-width="0.9"/>
<rect x="94.5" y="362.9" width="14" height="41.80000000000001" fill="#6476ab" stroke="#4c5f9c" stroke-width="0.6"/>
<line x1="101.5" y1="358.6" x2="101.5" y2="362.9" stroke="#222" stroke-width="0.9"/>
<line x1="98.7" y1="358.6" x2="104.3" y2="358.6" stroke="#222" stroke-width="0.9"/>
<line x1="101.5" y1="362.9" x2="101.5" y2="366" stroke="#1d2a55" stroke-width="0.9"/>
<line x1="98.7" y1="366" x2="104.3" y2="366" stroke="#1d2a55" stroke-width="0.9"/>
<circle cx="49.2" cy="386.6" r="1.65" fill="none" stroke="#1a1a1a" stroke-width="0.95"/>
<circle cx="51.8" cy="386.6" r="1.65" fill="none" stroke="#1a1a1a" stroke-width="0.95"/>
<circle cx="54.4" cy="386.6" r="1.65" fill="none" stroke="#1a1a1a" stroke-width="0.95"/>
<circle cx="57" cy="386.6" r="1.65" fill="none" stroke="#1a1a1a" stroke-width="0.95"/>
<circle cx="59.6" cy="386.6" r="1.65" fill="none" stroke="#1a1a1a" stroke-width="0.95"/>
<circle cx="75.4" cy="380.7" r="1.8" fill="none" stroke="#1a1a1a" stroke-width="0.95"/>
<circle cx="80.8" cy="379.9" r="1.8" fill="none" stroke="#1a1a1a" stroke-width="0.95"/>
<circle cx="78.6" cy="388.4" r="1.8" fill="none" stroke="#1a1a1a" stroke-width="0.95"/>
<circle cx="75.4" cy="397" r="1.8" fill="none" stroke="#1a1a1a" stroke-width="0.95"/>
<circle cx="81.2" cy="396.2" r="1.8" fill="none" stroke="#1a1a1a" stroke-width="0.95"/>
<circle cx="98.2" cy="351.3" r="1.8" fill="none" stroke="#1a1a1a" stroke-width="0.95"/>
<circle cx="104.1" cy="351.3" r="1.8" fill="none" stroke="#1a1a1a" stroke-width="0.95"/>
<circle cx="101.5" cy="361.8" r="1.8" fill="none" stroke="#1a1a1a" stroke-width="0.95"/>
<circle cx="98.2" cy="373.1" r="1.8" fill="none" stroke="#1a1a1a" stroke-width="0.95"/>
<circle cx="105.2" cy="370.5" r="1.8" fill="none" stroke="#1a1a1a" stroke-width="0.95"/>
<line x1="78.6" y1="344.4" x2="100.4" y2="344.4" stroke="#444" stroke-width="1.3"/>
<text x="89.75" y="344.2" font-size="6.4" text-anchor="middle" fill="#222" letter-spacing="0.5" font-weight="bold">***</text>
<text transform="translate(54.3,414.3) rotate(-45)" font-size="7.4" text-anchor="end" fill="#222">DMSO</text>
<text transform="translate(77.4,414.8) rotate(-45)" font-size="7.4" text-anchor="end" fill="#222">MPαCsc</text>
<text transform="translate(101.2,414.5) rotate(-45)" font-size="7.4" text-anchor="end" fill="#222">MPαC</text>
<text class="cd" transform="translate(21.9,367) rotate(-90)" font-size="8.6" text-anchor="middle" fill="#222" textLength="50.4" lengthAdjust="spacingAndGlyphs">ATP release (fold)</text>
<text class="pl" x="139.3" y="322.4">F</text>
<path d="M162.50 355.50 L162.50 355.50 L163.40 355.05 L164.30 352.33 L165.20 351.39 L166.10 350.98 L167.00 351.20 L167.90 345.49 L168.80 343.15 L169.70 342.68 L170.60 340.47 L171.50 339.75 L172.40 338.75 L173.30 333.87 L174.20 330.40 L175.10 333.42 L176.00 331.24 L176.90 337.71 L177.80 341.30 L178.70 346.05 L179.60 343.85 L180.50 348.40 L181.40 349.92 L182.30 353.24 L183.20 355.44 L184.10 355.23 L185.00 355.50 L185.00 355.50 Z" fill="#b9babe" stroke="none"/>
<line x1="161.3" y1="355.5" x2="226" y2="355.5" stroke="#9a9a9a" stroke-width="0.8"/>
<path d="M162.00 387.50 L162.00 387.50 L162.90 385.72 L163.80 387.08 L164.70 387.50 L165.60 380.67 L166.50 384.62 L167.40 383.77 L168.30 378.93 L169.20 379.09 L170.10 373.76 L171.00 375.72 L171.90 368.81 L172.80 370.26 L173.70 365.75 L174.60 360.76 L175.50 359.37 L176.40 359.66 L177.30 364.17 L178.20 371.39 L179.10 369.06 L180.00 373.93 L180.90 377.96 L181.80 380.98 L182.70 378.66 L183.60 382.17 L184.50 381.32 L185.40 383.94 L186.30 384.97 L187.20 386.82 L188.00 387.50 Z" fill="#4e9fd8" stroke="none"/>
<line x1="161.3" y1="387.5" x2="226" y2="387.5" stroke="#4e9fd8" stroke-width="0.8"/>
<path d="M162.00 402.70 L162.00 402.70 L162.90 401.53 L163.80 400.30 L164.70 399.30 L165.60 401.95 L166.50 398.72 L167.40 398.70 L168.30 397.24 L169.20 398.42 L170.10 397.15 L171.00 394.49 L171.90 394.30 L172.80 391.53 L173.70 392.20 L174.60 390.57 L175.50 386.15 L176.40 386.70 L177.30 387.02 L178.20 386.88 L179.10 390.63 L180.00 394.00 L180.90 391.80 L181.80 394.39 L182.70 395.25 L183.60 396.57 L184.50 395.75 L185.40 399.81 L186.30 398.57 L187.20 400.85 L188.10 400.51 L189.00 400.78 L189.90 401.99 L190.80 402.53 L191.70 402.55 L192.00 402.70 Z" fill="#3b91c4" stroke="none"/>
<line x1="161.3" y1="402.7" x2="226" y2="402.7" stroke="#3b91c4" stroke-width="0.8"/>
<text x="224.0" y="415.7" font-size="7.4" text-anchor="end" fill="#222" letter-spacing="0.3" >100 μM</text>
<path d="M163.00 418.00 L163.00 418.00 L163.90 417.54 L164.80 416.95 L165.70 417.44 L166.60 416.05 L167.50 417.18 L168.40 415.99 L169.30 417.12 L170.20 415.00 L171.10 416.64 L172.00 414.17 L172.90 413.65 L173.80 413.04 L174.70 413.53 L175.60 410.94 L176.50 409.05 L177.40 410.74 L178.30 407.18 L179.20 403.17 L180.10 401.88 L181.00 401.63 L181.90 400.76 L182.80 398.52 L183.70 403.24 L184.60 402.16 L185.50 403.63 L186.40 407.97 L187.30 408.64 L188.20 410.08 L189.10 410.48 L190.00 412.53 L190.90 411.33 L191.80 412.10 L192.70 415.26 L193.60 413.73 L194.50 417.06 L195.40 417.23 L196.30 416.53 L197.20 416.70 L198.10 417.07 L199.00 417.41 L199.90 417.96 L200.00 418.00 Z" fill="#154a80" stroke="none"/>
<rect x="161.3" y="326" width="64.69999999999999" height="92" fill="none" stroke="#c4c4c4" stroke-width="0.8"/>
<line x1="161.3" y1="418" x2="225" y2="418" stroke="#222" stroke-width="1.0"/>
<line x1="176.2" y1="418" x2="176.2" y2="420.3" stroke="#222" stroke-width="0.9"/>
<text class="tk" transform="translate(181.1,428.4) rotate(-45)" font-size="7.2" text-anchor="end" fill="#262626" letter-spacing="0.4">10<tspan font-size="5.8" dy="-3" dx="0.3">0</tspan></text>
<line x1="191" y1="418" x2="191" y2="420.3" stroke="#222" stroke-width="0.9"/>
<text class="tk" transform="translate(195.9,428.4) rotate(-45)" font-size="7.2" text-anchor="end" fill="#262626" letter-spacing="0.4">10<tspan font-size="5.8" dy="-3" dx="0.3">1</tspan></text>
<line x1="205.8" y1="418" x2="205.8" y2="420.3" stroke="#222" stroke-width="0.9"/>
<text class="tk" transform="translate(210.70000000000002,428.4) rotate(-45)" font-size="7.2" text-anchor="end" fill="#262626" letter-spacing="0.4">10<tspan font-size="5.8" dy="-3" dx="0.3">2</tspan></text>
<line x1="220.6" y1="418" x2="220.6" y2="420.3" stroke="#222" stroke-width="0.9"/>
<text class="tk" transform="translate(225.5,428.4) rotate(-45)" font-size="7.2" text-anchor="end" fill="#262626" letter-spacing="0.4">10<tspan font-size="5.8" dy="-3" dx="0.3">3</tspan></text>
<text x="224.0" y="334.4" font-size="7.4" text-anchor="end" fill="#222" letter-spacing="0.3" >MPαCsc</text>
<text x="224.0" y="354" font-size="7.4" text-anchor="end" fill="#222" letter-spacing="0.3" >100 μM</text>
<text x="224.0" y="366.4" font-size="7.4" text-anchor="end" fill="#222" letter-spacing="0.3" >MPαC</text>
<text x="224.0" y="384.5" font-size="7.4" text-anchor="end" fill="#222" letter-spacing="0.3" >25 μM</text>
<text x="224.0" y="400.9" font-size="7.4" text-anchor="end" fill="#222" letter-spacing="0.3" >50 μM</text>
<text class="cd" transform="translate(154.8,372.5) rotate(-90)" font-size="8.6" text-anchor="middle" fill="#222" textLength="18.6" lengthAdjust="spacingAndGlyphs">Counts</text>
<text class="cd" x="193.6" y="449.4" font-size="8.4" text-anchor="middle" fill="#222" textLength="46.2" lengthAdjust="spacingAndGlyphs">FITC-lactadherin</text>
<line x1="298" y1="330" x2="298" y2="405.20000000000005" stroke="#1e1e1e" stroke-width="1.3"/>
<line x1="295.4" y1="332.5" x2="298" y2="332.5" stroke="#222" stroke-width="1.0"/>
<text x="292.4" y="335.2" font-size="7.4" text-anchor="end" fill="#222" letter-spacing="0.3" >60</text>
<line x1="295.4" y1="356.7" x2="298" y2="356.7" stroke="#222" stroke-width="1.0"/>
<text x="292.4" y="359.4" font-size="7.4" text-anchor="end" fill="#222" letter-spacing="0.3" >40</text>
<line x1="295.4" y1="380.8" x2="298" y2="380.8" stroke="#222" stroke-width="1.0"/>
<text x="292.4" y="383.5" font-size="7.4" text-anchor="end" fill="#222" letter-spacing="0.3" >20</text>
<line x1="295.4" y1="404.6" x2="298" y2="404.6" stroke="#222" stroke-width="1.0"/>
<text x="292.4" y="407.3" font-size="7.4" text-anchor="end" fill="#222" letter-spacing="0.3" >0</text>
<line x1="297.4" y1="404.6" x2="391.7" y2="404.6" stroke="#1e1e1e" stroke-width="1.3"/>
<line x1="309.4" y1="404.6" x2="309.4" y2="407.0" stroke="#222" stroke-width="0.9"/>
<line x1="328" y1="404.6" x2="328" y2="407.0" stroke="#222" stroke-width="0.9"/>
<line x1="346.2" y1="404.6" x2="346.2" y2="407.0" stroke="#222" stroke-width="0.9"/>
<line x1="364.6" y1="404.6" x2="364.6" y2="407.0" stroke="#222" stroke-width="0.9"/>
<line x1="383.4" y1="404.6" x2="383.4" y2="407.0" stroke="#222" stroke-width="0.9"/>
<rect x="322.15" y="400" width="11.7" height="4.600000000000023" fill="#6476ab" stroke="#4c5f9c" stroke-width="0.6"/>
<line x1="328" y1="398" x2="328" y2="400" stroke="#222" stroke-width="0.9"/>
<line x1="325.2" y1="398" x2="330.8" y2="398" stroke="#222" stroke-width="0.9"/>
<rect x="340.34999999999997" y="395.5" width="11.7" height="9.100000000000023" fill="#6476ab" stroke="#4c5f9c" stroke-width="0.6"/>
<line x1="346.2" y1="391.3" x2="346.2" y2="395.5" stroke="#222" stroke-width="0.9"/>
<line x1="343.4" y1="391.3" x2="349.0" y2="391.3" stroke="#222" stroke-width="0.9"/>
<line x1="346.2" y1="395.5" x2="346.2" y2="399" stroke="#1d2a55" stroke-width="0.9"/>
<line x1="343.4" y1="399" x2="349.0" y2="399" stroke="#1d2a55" stroke-width="0.9"/>
<rect x="358.75" y="383.3" width="11.7" height="21.30000000000001" fill="#6476ab" stroke="#4c5f9c" stroke-width="0.6"/>
<line x1="364.6" y1="378.8" x2="364.6" y2="383.3" stroke="#222" stroke-width="0.9"/>
<line x1="361.8" y1="378.8" x2="367.40000000000003" y2="378.8" stroke="#222" stroke-width="0.9"/>
<line x1="364.6" y1="383.3" x2="364.6" y2="388" stroke="#1d2a55" stroke-width="0.9"/>
<line x1="361.8" y1="388" x2="367.40000000000003" y2="388" stroke="#1d2a55" stroke-width="0.9"/>
<rect x="377.54999999999995" y="360" width="11.7" height="44.60000000000002" fill="#6476ab" stroke="#4c5f9c" stroke-width="0.6"/>
<line x1="383.4" y1="354.3" x2="383.4" y2="360" stroke="#222" stroke-width="0.9"/>
<line x1="380.59999999999997" y1="354.3" x2="386.2" y2="354.3" stroke="#222" stroke-width="0.9"/>
<line x1="383.4" y1="360" x2="383.4" y2="366" stroke="#1d2a55" stroke-width="0.9"/>
<line x1="380.59999999999997" y1="366" x2="386.2" y2="366" stroke="#1d2a55" stroke-width="0.9"/>
<circle cx="305" cy="402" r="1.8" fill="none" stroke="#1a1a1a" stroke-width="0.95"/>
<circle cx="308.8" cy="402.5" r="1.8" fill="none" stroke="#1a1a1a" stroke-width="0.95"/>
<circle cx="312.5" cy="402" r="1.8" fill="none" stroke="#1a1a1a" stroke-width="0.95"/>
<circle cx="307" cy="403.3" r="1.8" fill="none" stroke="#1a1a1a" stroke-width="0.95"/>
<circle cx="311" cy="403.3" r="1.8" fill="none" stroke="#1a1a1a" stroke-width="0.95"/>
<circle cx="323.3" cy="399.5" r="1.8" fill="none" stroke="#1a1a1a" stroke-width="0.95"/>
<circle cx="327" cy="397.5" r="1.8" fill="none" stroke="#1a1a1a" stroke-width="0.95"/>
<circle cx="330.8" cy="399" r="1.8" fill="none" stroke="#1a1a1a" stroke-width="0.95"/>
<circle cx="323.8" cy="402.5" r="1.8" fill="none" stroke="#1a1a1a" stroke-width="0.95"/>
<circle cx="328.8" cy="403" r="1.8" fill="none" stroke="#1a1a1a" stroke-width="0.95"/>
<circle cx="346.3" cy="385" r="1.8" fill="none" stroke="#1a1a1a" stroke-width="0.95"/>
<circle cx="342" cy="394.5" r="1.8" fill="none" stroke="#1a1a1a" stroke-width="0.95"/>
<circle cx="345.5" cy="395.5" r="1.8" fill="none" stroke="#1a1a1a" stroke-width="0.95"/>
<circle cx="348.8" cy="395.5" r="1.8" fill="none" stroke="#1a1a1a" stroke-width="0.95"/>
<circle cx="351.3" cy="395.5" r="1.8" fill="none" stroke="#1a1a1a" stroke-width="0.95"/>
<circle cx="364.3" cy="368.8" r="1.8" fill="none" stroke="#1a1a1a" stroke-width="0.95"/>
<circle cx="364.3" cy="376.3" r="1.8" fill="none" stroke="#1a1a1a" stroke-width="0.95"/>
<circle cx="361.3" cy="386.3" r="1.8" fill="none" stroke="#1a1a1a" stroke-width="0.95"/>
<circle cx="368" cy="390" r="1.8" fill="none" stroke="#1a1a1a" stroke-width="0.95"/>
<circle cx="360.8" cy="393.3" r="1.8" fill="none" stroke="#1a1a1a" stroke-width="0.95"/>
<circle cx="378.8" cy="349.5" r="1.8" fill="none" stroke="#1a1a1a" stroke-width="0.95"/>
<circle cx="388" cy="348" r="1.8" fill="none" stroke="#1a1a1a" stroke-width="0.95"/>
<circle cx="383.8" cy="357.5" r="1.8" fill="none" stroke="#1a1a1a" stroke-width="0.95"/>
<circle cx="383.8" cy="365" r="1.8" fill="none" stroke="#1a1a1a" stroke-width="0.95"/>
<circle cx="383" cy="378" r="1.8" fill="none" stroke="#1a1a1a" stroke-width="0.95"/>
<line x1="328" y1="341.3" x2="383.8" y2="341.3" stroke="#444" stroke-width="1.3"/>
<text x="355.75" y="341.1" font-size="6.4" text-anchor="middle" fill="#222" letter-spacing="0.5" font-weight="bold">***</text>
<line x1="328" y1="361.8" x2="364.3" y2="361.8" stroke="#444" stroke-width="1.3"/>
<text x="345.25" y="361.6" font-size="6.4" text-anchor="middle" fill="#222" letter-spacing="0.5" font-weight="bold">**</text>
<text transform="translate(309.8,416.6) rotate(-45)" font-size="7.8" text-anchor="end" fill="#222">DMSO</text>
<text x="328.15" y="417.9" font-size="7.4" text-anchor="middle" fill="#222" letter-spacing="0.3" >100</text>
<text x="346.34999999999997" y="417.9" font-size="7.4" text-anchor="middle" fill="#222" letter-spacing="0.3" >25</text>
<text x="364.75" y="417.9" font-size="7.4" text-anchor="middle" fill="#222" letter-spacing="0.3" >50</text>
<text x="383.54999999999995" y="417.9" font-size="7.4" text-anchor="middle" fill="#222" letter-spacing="0.3" >100</text>
<text x="392.6" y="417.9" font-size="7.4" text-anchor="start" fill="#222" letter-spacing="0.3" >(μM)</text>
<line x1="322.5" y1="422" x2="335.2" y2="422" stroke="#2a2a2a" stroke-width="1.1"/>
<line x1="337.1" y1="422" x2="391.7" y2="422" stroke="#2a2a2a" stroke-width="1.1"/>
<text x="328.65" y="432.2" font-size="7.4" text-anchor="middle" fill="#222" letter-spacing="0.3" >MPαCsc</text>
<text x="364.95" y="432.2" font-size="7.4" text-anchor="middle" fill="#222" letter-spacing="0.3" >MPαC</text>
<text class="cd" transform="translate(266.3,366.6) rotate(-90)" font-size="8.6" text-anchor="middle" fill="#222" textLength="43.4" lengthAdjust="spacingAndGlyphs">PS externalized</text>
<text class="cd" transform="translate(277.3,367.3) rotate(-90)" font-size="8.6" text-anchor="middle" fill="#222" textLength="36.2" lengthAdjust="spacingAndGlyphs">platelets (%)</text>
<rect x="0.5" y="0.5" width="519" height="458" fill="none" stroke="#555" stroke-width="1"/>
</svg>
</body></html>
